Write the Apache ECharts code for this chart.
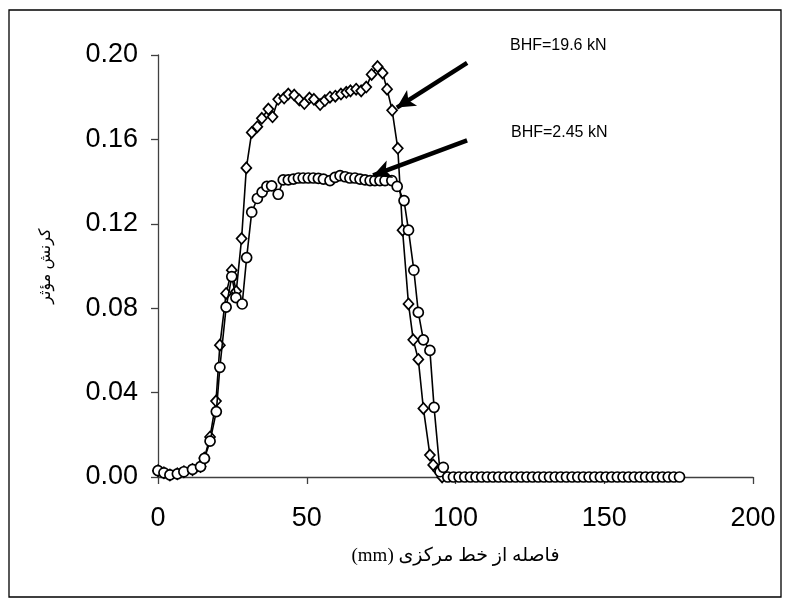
<!DOCTYPE html>
<html>
<head>
<meta charset="utf-8">
<script src="https://cdn.jsdelivr.net/npm/echarts@6/dist/echarts.min.js"></script>
<style>
  html, body { margin: 0; padding: 0; background: #fff; }
  #myChart { width: 791px; height: 608px; }
</style>
</head>
<body>
<div id="myChart"></div>
<script>
// BHF=19.6 kN (diamonds)
var x196 = [0, 2.0, 4.0, 6.5, 8.7, 11.6, 14.3, 15.6, 17.5, 19.5, 20.8, 22.9, 24.8, 26.3, 28.1, 29.7,
  31.5, 33.4, 34.9, 37.1, 38.5, 40.4, 42.4, 43.8, 45.8, 47.5, 49.2, 50.9, 52.4, 54.5, 56.1, 57.8,
  59.6, 61.5, 63.3, 64.7, 66.6, 68.3, 70.0, 71.8, 73.8, 75.5, 77.0, 78.7, 80.6, 82.2, 84.2, 85.8,
  87.5, 89.2, 91.4, 92.5, 94.2, 95.5];
var y196 = [0.003, 0.002, 0.001, 0.0015, 0.0025, 0.0035, 0.005, 0.009, 0.019, 0.036, 0.0625, 0.087, 0.098, 0.088, 0.113, 0.1465,
  0.1633, 0.166, 0.170, 0.1744, 0.1707, 0.179, 0.1796, 0.1815, 0.181, 0.1787, 0.177, 0.1796, 0.179, 0.1765, 0.1784, 0.180,
  0.1805, 0.1815, 0.1823, 0.183, 0.1838, 0.183, 0.1848, 0.1908, 0.1945, 0.1915, 0.1838, 0.1738, 0.1558, 0.117, 0.082, 0.065,
  0.0557, 0.0325, 0.0104, 0.0057, 0.003, 0];

// BHF=2.45 kN (circles)
var x245 = [0, 2.0, 4.0, 6.5, 8.7, 11.6, 14.3, 15.6, 17.5, 19.6, 20.8, 22.9, 24.8, 26.2, 28.3, 29.8,
  31.5, 33.4, 35.0, 36.6, 38.2, 40.4, 42.1, 43.8, 45.5, 47.2, 48.8, 50.5, 52.2, 53.9, 55.6, 57.8,
  59.5, 61.2, 62.9, 64.5, 66.2, 67.9, 69.6, 71.3, 72.9, 74.6, 76.3, 78.6, 80.4, 82.7, 84.2, 86.0,
  87.5, 89.2, 91.4, 92.8, 94.8, 95.9,
  97.4, 99.3, 101.2, 103.1, 105.0, 106.9, 108.8, 110.7, 112.6, 114.5, 116.4, 118.3, 120.2, 122.1,
  124.0, 125.9, 127.8, 129.7, 131.6, 133.5, 135.4, 137.3, 139.2, 141.1, 143.0, 144.9, 146.8, 148.7,
  150.6, 152.5, 154.4, 156.3, 158.2, 160.1, 162.0, 163.9, 165.8, 167.7, 169.6, 171.5, 173.4, 175.3];
var y245 = [0.003, 0.002, 0.001, 0.0015, 0.0025, 0.0036, 0.0049, 0.0088, 0.017, 0.031, 0.052, 0.0805, 0.095, 0.085, 0.082, 0.104,
  0.1255, 0.132, 0.135, 0.1377, 0.138, 0.134, 0.1408, 0.1408, 0.1412, 0.1417, 0.1417, 0.1417, 0.1417, 0.1415, 0.1412, 0.1405,
  0.142, 0.1428, 0.1423, 0.1417, 0.1417, 0.1412, 0.1408, 0.1405, 0.1405, 0.1405, 0.1405, 0.1405, 0.1377, 0.131, 0.117, 0.098,
  0.078, 0.065, 0.060, 0.033, 0.0025, 0.0046,
  0, 0, 0, 0, 0, 0, 0, 0, 0, 0, 0, 0, 0, 0,
  0, 0, 0, 0, 0, 0, 0, 0, 0, 0, 0, 0, 0, 0,
  0, 0, 0, 0, 0, 0, 0, 0, 0, 0, 0, 0, 0, 0];

var xTicks = [0, 50, 100, 150, 200];
var yTicks = [0.00, 0.04, 0.08, 0.12, 0.16, 0.20];

// arrows: [tail, head] in data units
var arrow196 = [[103.9, 0.1963], [80.3, 0.1751]];
var arrow245 = [[103.9, 0.1595], [72.3, 0.1429]];

function pairs(xs, ys) {
  return xs.map(function (x, i) { return [x, ys[i]]; });
}

var myChart = echarts.init(document.getElementById("myChart"));
myChart.setOption({
  animation: false,
  backgroundColor: "#fff",
  grid: { left: 158, right: 38, top: 55, bottom: 131 },
  graphic: [
    {
      type: "rect",
      shape: { x: 9, y: 10, width: 772, height: 587 },
      style: { fill: "none", stroke: "#000", lineWidth: 1.3 },
      silent: true
    },
    {
      type: "text", left: 510, top: 38,
      style: { text: "BHF=19.6 kN", fontSize: 16, fontFamily: "Liberation Sans, Arial", fill: "#000" }
    },
    {
      type: "text", left: 511, top: 125,
      style: { text: "BHF=2.45 kN", fontSize: 16, fontFamily: "Liberation Sans, Arial", fill: "#000" }
    }
  ],
  xAxis: {
    type: "value",
    min: xTicks[0],
    max: xTicks[xTicks.length - 1],
    interval: 50,
    name: "(mm) فاصله از خط مرکزی",
    nameLocation: "middle",
    nameGap: 70,
    nameTextStyle: { fontSize: 19, fontFamily: "Liberation Serif, DejaVu Serif, DejaVu Sans", color: "#000" },
    axisLine: { lineStyle: { color: "#404040", width: 1.3 } },
    axisTick: { show: true, length: 7, lineStyle: { color: "#404040", width: 1.3 } },
    axisLabel: { fontSize: 27, fontFamily: "Liberation Sans, Arial", color: "#000", margin: 28 },
    splitLine: { show: false }
  },
  yAxis: {
    type: "value",
    min: yTicks[0],
    max: yTicks[yTicks.length - 1],
    interval: 0.04,
    name: "کرنش مؤثر",
    nameLocation: "middle",
    nameGap: 104,
    nameTextStyle: { fontSize: 16, fontFamily: "Liberation Serif, DejaVu Serif, DejaVu Sans", color: "#000" },
    axisLine: { show: true, lineStyle: { color: "#404040", width: 1.3 } },
    axisTick: { show: true, length: 7, lineStyle: { color: "#404040", width: 1.3 } },
    axisLabel: {
      fontSize: 27, fontFamily: "Liberation Sans, Arial", color: "#000", margin: 20,
      formatter: function (v) { return v.toFixed(2); }
    },
    splitLine: { show: false }
  },
  series: [
    {
      name: "BHF=2.45 kN",
      type: "line",
      data: pairs(x245, y245),
      symbol: "circle",
      symbolSize: 10,
      showAllSymbol: true,
      lineStyle: { color: "#000", width: 1.6 },
      itemStyle: { color: "#fff", borderColor: "#000", borderWidth: 1.7 },
      z: 3
    },
    {
      name: "BHF=19.6 kN",
      type: "line",
      data: pairs(x196, y196),
      symbol: "diamond",
      symbolSize: [10, 11],
      showAllSymbol: true,
      lineStyle: { color: "#000", width: 1.6 },
      itemStyle: { color: "#fff", borderColor: "#000", borderWidth: 1.7 },
      z: 2,
      markLine: {
        silent: true,
        symbol: ["none", "arrow"],
        symbolSize: [14, 18],
        label: { show: false },
        lineStyle: { color: "#000", width: 4.5, type: "solid" },
        data: [
          [{ coord: arrow196[0] }, { coord: arrow196[1] }],
          [{ coord: arrow245[0] }, { coord: arrow245[1] }]
        ]
      }
    }
  ]
});
</script>
</body>
</html>
